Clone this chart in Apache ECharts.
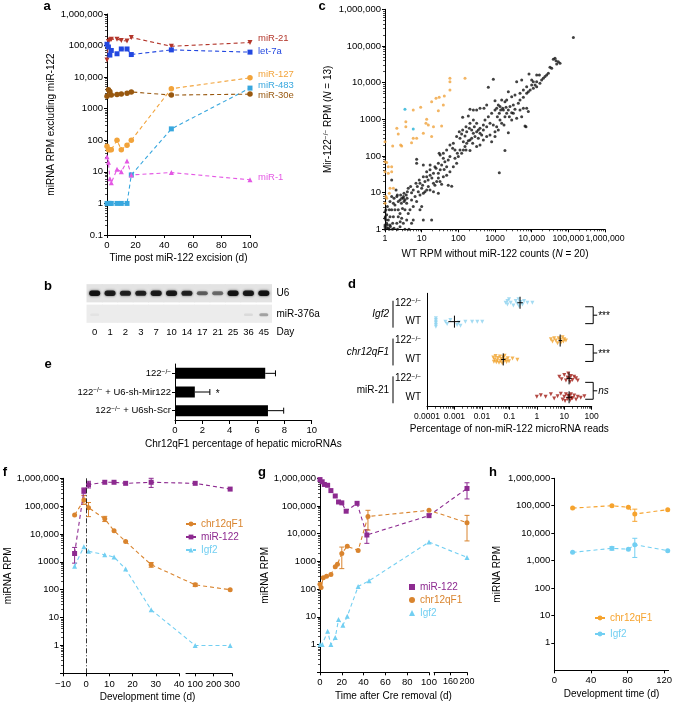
<!DOCTYPE html>
<html><head><meta charset="utf-8">
<script src="https://cdn.jsdelivr.net/npm/echarts@6/dist/echarts.min.js"></script>
<style>html,body{margin:0;padding:0;background:#fff}#chart{width:675px;height:704px}</style>
</head><body><div id="chart"></div>
<script>
// ================= DATA =================
// Panel a: miRNA RPM excluding miR-122 vs time post excision
const aDays   = [0, 1, 2, 3, 7, 10, 14, 17, 45, 100];
const aMiR21  = [35000, 135000, 150000, 160000, 160000, 145000, 140000, 180000, 95000, 125000];
const aLet7a  = [110000, 90000, 50000, 70000, 55000, 78000, 78000, 52000, 73000, 62000];
const aMiR127 = [65, 50, 50, 50, 100, 50, 70, 100, 4300, 9500];
const aMiR483 = [1, 1, 1, 1, 1, 1, 1, 8, 230, 4500];
const aMiR30e = [2500, 4000, 3500, 2700, 2800, 2900, 3100, 3400, 2700, 2900];
const aMiR1   = [30, 20, 6, 4.5, 12, 10, 22, 8, 9.5, 5.6];

// Panel b: northern blot band intensities (0..1)
const bLanes = ['0','1','2','3','7','10','14','17','21','25','36','45'];
const bU6    = [0.95, 0.9, 0.85, 0.85, 0.9, 0.9, 0.85, 0.55, 0.5, 0.95, 0.9, 0.95];
const bMiR376a = [0.04, 0, 0, 0, 0, 0, 0, 0, 0, 0, 0.08, 0.3];

// Panel c: [WT RPM, Mir-122-/- RPM]
const cBlack = [
[137000,169000],[39000,43300],[46100,39800],[53400,37400],[59300,33700],[48100,32300],[31600,26200],[43300,46100],
[25700,16200],[20800,13100],[16200,16200],[13700,10600],[11100,10600],[10000,8630],[8450,17200],[7310,7780],
[5930,6310],[5340,11800],[4810,5120],[3900,10600],[3510,4610],[2850,4150],[2310,5680],[2080,3370],[1870,3030],
[1520,3370],[1230,2460],[1000,3230],[900,12300],[658,7460],[593,2460],[501,2000],[390,2000],[316,1800],[257,1800],
[208,1870],[187,1230],[131,1130],[1430,1800],[1310,1460],[1160,1180],[1370,960],[1620,2000],[2000,2120],[2310,1800],
[2850,1520],[2460,1180],[3510,1870],[5930,2000],[5340,1180],[3900,1060],[7310,2000],[8110,1620],[7000,631],
[2310,433],[1760,700],[1110,631],[900,700],[731,778],[593,631],[481,700],[390,568],[351,512],[316,778],[273,631],
[231,512],[200,568],[169,461],[152,351],[123,398],[111,303],[137,246],[187,262],[231,303],[285,337],[351,303],
[433,374],[390,200],[316,180],[246,221],[208,140],[162,146],[137,146],[111,146],[94,118],[81,146],[70,162],
[59,96],[53,78],[43,70],[39,86],[32,106],[30,118],[35,57],[48,51],[41,43],[32,42],[28.5,34],[23,51],[21,34],
[17,30],[19,25],[15,22],[12.3,20],[10.6,16],[9,18],[7.6,14.6],[5.9,11.8],[5.3,10],[4.3,13.1],[3.8,8.6],[3.2,7.8],
[2.85,7],[2.57,6.3],[2.3,5.7],[2.1,7.8],[1.87,4.6],[1.69,5.1],[1.52,3.4],[1.37,2.2],[1.23,1.8],[1.11,1.46],[1,1.18],
[7.3,81],[7.3,63],[11.1,57],[17,57],[13.7,37],[21,18],[25.7,20],[31.6,20],[35,17],[53,16],[66,15],[28.5,9.6],
[21,10.6],[13.7,11.8],[11.1,9.6],[9,8.6],[6.6,7.8],[5.3,6.3],[3.9,5.1],[3.5,3.4],[2.57,2.7],[2.85,2],[4.3,2.7],
[5.9,1.8],[10,4.2],[9,3.4],[11.1,1.8],[18.7,1.8],[5.3,1.46],[1.69,2.2],[2.1,1.46],[1.37,1.31],[1.23,1.06],[2.57,1.18],
[2,11.8],[1.52,22],[1.06,3.4],[1.11,2.5],[1.87,3.4],[3.16,7],[3.5,6.3],[4,7],[3.3,5.7],[2.8,5.1],[3,3.7],[2.3,3.4],
[6580,658],[1870,140],[1310,35],
[1.06,1.8],[1.16,1.31],[1.02,2.2],[1.31,3.4],[1.62,1.46],[1.76,1.06],[2.3,2.2],[3.16,1.46],[3.9,1.8],[4.8,3.4],
[5.9,4.2],[7.3,5.7],[8.1,10.6],[10,13.1],[12.3,10.6],[15.2,14.6],[16.9,11.8],[23,16],[28.5,25],[39,27],[48,30],
[59,37],[73,51],[90,63],[81,86],[100,96],[123,118],[152,180],[169,221],[208,271],[257,415],[316,461],[390,415],
[481,512],[533,960],[658,1180],[810,1460],[1000,1800],[1110,2000],[1370,2230],[1690,1800],[2080,1460],[2560,2230],
[3160,2460],[4330,2760],[4810,3370],[5930,3980],[7310,5120],[9100,6310],[11100,7020],[12400,8630],[13700,7780],
[16800,9550],[18700,11800],[23100,14600],[28500,18000],[35100,24700],[13700,16200],[10000,11800],[8110,5680],
[4810,1800],[3160,1460],[2850,960],[1870,1180],[1520,778],[1230,512],[1000,461],[731,374],[593,337],[481,271],
[810,246],[1000,337],[257,960],[208,778],[162,631],[131,512],[106,461],[90,337],[73,221],[59,200],[48,146],
[39,118],[28.5,63],[24.6,46],[16.9,42],[13.7,27],[11.1,27],[8.6,22],[7,18],[5,14.6],[4.07,10.6],[3.3,9.6],
[2.67,8.6],[2.17,8.6],[1.76,7],[1.37,5.7],[1.16,4.2],[1.52,7.8],
[1.3,1],[1.6,1],[2.2,1],[3.5,1],[1,1.3],[1,2],[1,3],[1,1],[1.1,1.1],[4.5,1],[1.4,1.2],[2.6,1.6]
];
const cOrange = [[59,13100],[59,10600],[152,13100],[59,6310],[41.5,4330],[30,3980],[24.6,3740],[18.7,3030],[39,2460],
[28.5,1720],[9.4,2120],[5.9,1800],[13.7,1000],[15.2,700],[13.1,778],[35,658],[21,631],[3.7,863],[2.1,568],[2.3,398],
[3.7,631],[1.62,187],[2.67,200],[2.85,187],[5.3,231],[5.9,303],[7.3,303],[11.1,415],[18.7,337],[1,246],[1.11,66],
[1.23,51],[1.52,51],[1.52,37],[1.23,34],[1,37],[1.37,13.1],[1.69,13.1],[1.06,7.8],[1.31,9.6],[1,5.1],[1.11,7],[1,70]];
const cCyan = [[3.5,1870],[5.9,540]];

// Panel d: percentage of non-miR-122 reads; rows 0..5 (Igf2 122-/-, Igf2 WT, chr 122-/-, chr WT, miR-21 122-/-, miR-21 WT)
const dRowNames = ['Igf2·122','Igf2·WT','chr12qF1·122','chr12qF1·WT','miR-21·122','miR-21·WT'];
const dGroups = ['Igf2','chr12qF1','miR-21'];
const dGroupItalic = [true, true, false];
const dSig = ['***','***','ns'];
const dIgf2KO = [0.073,0.085,0.085,0.097,0.112,0.14,0.17,0.196,0.215,0.226,0.26,0.30,0.344,0.456,0.69];
const dIgf2KOdy = [0,-0.09,0.09,-0.18,0,0.14,-0.09,0.04,-0.18,0.18,-0.04,0.09,-0.09,0,0];
const dIgf2WT = [0.00021,0.00021,0.00021,0.00021,0.00021,0.00021,0.00047,0.00054,0.00071,0.00125,0.00144,0.00166,0.0025,0.0044,0.0068,0.0103];
const dIgf2WTdy = [-0.18,-0.09,0,0.09,0.18,0.27,0,0.12,-0.09,0.18,0.05,0.22,0,0,0,0];
const dChrKO = [3.25,3.74,4.3,4.95,5.7,6.2,7.1,7.55,8.7,9.3,10,11.5];
const dChrKOdy = [-0.07,0.05,-0.12,0,0.14,-0.12,-0.04,0.11,-0.18,0.05,-0.07,0];
const dChrWT = [0.026,0.0273,0.029,0.0315,0.0335,0.036,0.038,0.042,0.0455,0.048,0.051,0.055,0.06,0.0635,0.067,0.073,0.079,0.088,0.097,0.13,0.196];
const dChrWTdy = [-0.1,0.12,0,-0.18,0.15,0.05,-0.08,0.18,-0.15,0.08,-0.02,0.2,-0.12,0.1,-0.2,0.02,0.14,-0.06,0.1,-0.05,0.02];
const dMirKO = [6.6,8,10,11.5,13.2,14,15.2,16.4,17.5,20,23,27,31];
const dMirKOdy = [-0.09,0.05,-0.18,0.12,-0.05,-0.26,0,0.18,-0.12,0.09,-0.09,0,0.12];
const dMirWT = [1.0,1.4,2.1,3.25,4.3,5.7,7.5,8.7,10,10.7,11.5,13.2,14,15.2,16.4,17.5,18.6,20,23,27,31,40,54];
const dMirWTdy = [-0.02,-0.11,-0.02,-0.16,0.07,-0.05,-0.19,0.12,-0.02,0.2,-0.16,0.09,-0.08,-0.05,0.16,-0.16,0.05,0.05,-0.09,0.12,-0.02,0.02,-0.05];
// mean, low, high per row
const dStats = [[0.245,0.195,0.31],[0.001,0.0006,0.0016],[7.1,6.2,8.3],[0.06,0.05,0.072],[15,12,18.5],[15,12,19]];

// Panel e
const eLabels = ['122−/−', '122−/− + U6-sh-Mir122', '122−/− + U6sh-Scr'];
const eValues = [6.6, 1.45, 6.8];
const eErrors = [0.75, 1.1, 1.15];
const eSig = ['', '*', ''];

// Panel f: development time
const fDays = [-5, -1, 1, 8, 12, 17, 28, 100, 290];
const fChr = [48000, 165000, 88000, 35000, 13000, 5400, 790, 150, 100];
const fChrLo = [null, 115000, 42000, 28000, null, null, 640, 130, null];
const fChrHi = [null, 240000, 135000, 43000, null, null, 950, 170, null];
const fMiR122 = [2000, 360000, 590000, 720000, 720000, 660000, 720000, 660000, 410000];
const fMiR122Lo = [900, 280000, 450000, null, null, null, 470000, null, null];
const fMiR122Hi = [3300, 450000, 780000, null, null, null, 1000000, null, null];
const fIgf2 = [700, 3500, 2400, 1800, 1500, 550, 19, 1, 1];

// Panel g: time after Cre removal
const gDaysMiR = [0, 2, 4, 7, 10, 14, 17, 20, 24, 34, 43, 100, 200];
const gMiR122 = [900000, 750000, 600000, 560000, 360000, 230000, 140000, 130000, 65000, 125000, 9000, 45000, 430000];
const gMiR122Lo = [null, null, null, null, null, null, null, null, null, null, 4500, null, 180000];
const gMiR122Hi = [null, null, null, null, null, null, null, null, null, null, 14000, null, 690000];
const gDaysChr = [0, 1, 3, 6, 10, 14, 16, 20, 25, 35, 44, 100, 200];
const gChr = [150, 115, 260, 290, 340, 650, 790, 1950, 3500, 2500, 42000, 70000, 25000];
const gChrLo = [null, null, null, null, null, null, null, 550, null, null, 13500, null, 5500];
const gChrHi = [null, null, null, null, null, null, null, 3300, null, null, 70000, null, 46000];
const gDaysIgf = [0, 2, 7, 10, 14, 17, 21, 25, 35, 45, 100, 200];
const gIgf2 = [1, 1, 3, 1, 1.8, 8, 5, 10.5, 125, 200, 5000, 1400];

// Panel h
const hDays = [20, 63, 81, 88, 124];
const hChr = [82000, 100000, 88000, 50000, 72000];
const hChrLo = [null, null, null, 27000, null];
const hChrHi = [null, null, null, 75000, null];
const hIgf2 = [2000, 2800, 2600, 3800, 2300];
const hIgf2Lo = [null, 2400, null, 1300, null];
const hIgf2Hi = [null, 3200, null, 6500, null];

// ================= STYLE / LAYOUT =================
const FONT = '"Liberation Sans", Arial, Helvetica, sans-serif';
const C = {
  a21:'#b3362b', aLet:'#2348e0', a127:'#f2a33a', a483:'#38a7de', a30e:'#98580f', a1:'#e458e4',
  cOr:'#f0a23c', cCy:'#22b0d6',
  dIgf:'#8dd2ef', dChr:'#f0a12a', dMir:'#a01c14',
  fChr:'#d9842e', fMiR:'#8d2a90', fIgf:'#72cff2',
  hChr:'#f6a32e', hIgf:'#72cff2'
};
function deepMerge(a, b) {
  const o = Object.assign({}, a);
  for (const k in b) {
    if (b[k] && typeof b[k] === 'object' && !Array.isArray(b[k]) && a[k] && typeof a[k] === 'object' && !Array.isArray(a[k])) o[k] = deepMerge(a[k], b[k]);
    else o[k] = b[k];
  }
  return o;
}
const SUP = { s: { fontSize: 6.5, verticalAlign: 'top', lineHeight: 7, fontFamily: FONT, color: '#000' },
              i: { fontStyle: 'italic', fontSize: 10, fontFamily: FONT, color: '#000' } };
const axisBase = {
  axisLine: { show: true, onZero: false, lineStyle: { color: '#000', width: 1 } },
  axisTick: { show: true, length: 3, lineStyle: { color: '#000', width: 1 } },
  axisLabel: { color: '#000', fontSize: 9.5, fontFamily: FONT, margin: 4, hideOverlap: false },
  splitLine: { show: false },
  nameTextStyle: { color: '#000', fontSize: 10, fontFamily: FONT, rich: SUP }
};
const ax = extra => deepMerge(axisBase, extra);
const minor = { show: true, splitNumber: 9, length: 2, lineStyle: { color: '#000', width: 0.7 } };
function fmtNum(v, commaFrom) {
  const r = +(+v).toPrecision(6);
  const s = String(r);
  return r >= commaFrom ? s.replace(/\B(?=(\d{3})+(?!\d))/g, ',') : s;
}
function brokenScale(s1, s2) {
  const k = s1.width / (s1.max - s1.min);
  const k2 = s2.width / (s2.max - s2.min);
  return {
    map: d => {
      const px = d <= s1.max ? s1.left + (d - s1.min) * k : s2.left + (d - s2.min) * k2;
      return s1.min + (px - s1.left) / k;
    },
    min: s1.min,
    max: s1.min + (s2.left + s2.width - s1.left) / k,
    left: s1.left,
    width: s2.left + s2.width - s1.left
  };
}
const F1 = { min: -10, max: 40, left: 63, width: 116 }, F2 = { min: 50, max: 300, left: 186, width: 46 };
const G1 = { min: 0, max: 100, left: 320, width: 109 }, G2 = { min: 120, max: 200, left: 434, width: 33 };
const fS = brokenScale(F1, F2), gS = brokenScale(G1, G2);
const FTOP = 478.3;

function errRows(days, lo, hi, map) {
  return days.map((d, i) => lo[i] != null ? [map(d), lo[i], hi[i]] : null).filter(Boolean);
}
function errSeries(xi, yi, color, rows) {
  return {
    type: 'custom', xAxisIndex: xi, yAxisIndex: yi, silent: true, data: rows, z: 3,
    renderItem(params, api) {
      const p1 = api.coord([api.value(0), api.value(1)]), p2 = api.coord([api.value(0), api.value(2)]);
      const cw = 2.5, st = { stroke: color, lineWidth: 1 };
      return { type: 'group', children: [
        { type: 'line', shape: { x1: p1[0], y1: p1[1], x2: p2[0], y2: p2[1] }, style: st },
        { type: 'line', shape: { x1: p1[0] - cw, y1: p1[1], x2: p1[0] + cw, y2: p1[1] }, style: st },
        { type: 'line', shape: { x1: p2[0] - cw, y1: p2[1], x2: p2[0] + cw, y2: p2[1] }, style: st }
      ] };
    }
  };
}
function lineS(name, xi, yi, pts, color, symbol, extra) {
  return Object.assign({
    type: 'line', name, xAxisIndex: xi, yAxisIndex: yi, data: pts,
    symbol, symbolSize: 5, itemStyle: { color }, lineStyle: { color, width: 1.1, type: [4, 3] }, z: 4
  }, extra || {});
}

// ---------- series ----------
const series = [];
// a
[['miR-21', aMiR21, C.a21, 'triangle', 180, [0, -4]],
 ['let-7a', aLet7a, C.aLet, 'rect', 0, [0, -1]],
 ['miR-127', aMiR127, C.a127, 'circle', 0, [0, -3]],
 ['miR-483', aMiR483, C.a483, 'rect', 0, [0, -3]],
 ['miR-30e', aMiR30e, C.a30e, 'circle', 0, [0, 1]],
 ['miR-1', aMiR1, C.a1, 'triangle', 0, [0, -2]]
].forEach(([name, vals, color, sym, rot, off]) => {
  series.push(lineS(name, 0, 0, aDays.map((d, i) => [d, vals[i]]), color, sym, {
    symbolRotate: rot, symbolSize: sym === 'circle' ? 5.5 : 5,
    endLabel: { show: true, formatter: name, color, fontSize: 9.5, fontFamily: FONT, distance: 8, offset: off }
  }));
});
// c
series.push({ type: 'scatter', xAxisIndex: 1, yAxisIndex: 1, data: cBlack, symbolSize: 3, itemStyle: { color: '#111' } });
series.push({ type: 'scatter', xAxisIndex: 1, yAxisIndex: 1, data: cOrange, symbolSize: 3, itemStyle: { color: C.cOr } });
series.push({ type: 'scatter', xAxisIndex: 1, yAxisIndex: 1, data: cCyan, symbolSize: 3, itemStyle: { color: C.cCy } });
// d points
const dPts = (xs, dys, row) => xs.map((x, i) => [x, row + dys[i]]);
[[dPts(dIgf2KO, dIgf2KOdy, 0).concat(dPts(dIgf2WT, dIgf2WTdy, 1)), C.dIgf],
 [dPts(dChrKO, dChrKOdy, 2).concat(dPts(dChrWT, dChrWTdy, 3)), C.dChr],
 [dPts(dMirKO, dMirKOdy, 4).concat(dPts(dMirWT, dMirWTdy, 5)), C.dMir]
].forEach(([pts, color]) => series.push({
  type: 'scatter', xAxisIndex: 2, yAxisIndex: 3, data: pts, symbol: 'triangle', symbolRotate: 180,
  symbolSize: 4, itemStyle: { color }
}));
// d mean +/- SEM crosses
series.push({
  type: 'custom', xAxisIndex: 2, yAxisIndex: 3, silent: true, z: 5,
  data: dStats.map((s, r) => [s[0], r, s[1], s[2]]),
  renderItem(params, api) {
    const r = api.value(1);
    const p = api.coord([api.value(0), r]), pl = api.coord([api.value(2), r]), ph = api.coord([api.value(3), r]);
    const st = { stroke: '#000', lineWidth: 1 };
    return { type: 'group', children: [
      { type: 'line', shape: { x1: pl[0], y1: p[1], x2: ph[0], y2: p[1] }, style: st },
      { type: 'line', shape: { x1: p[0], y1: p[1] - 6, x2: p[0], y2: p[1] + 6 }, style: st }
    ] };
  }
});
// d group labels and significance brackets
series.push({
  type: 'custom', xAxisIndex: 2, yAxisIndex: 3, silent: true,
  data: dGroups.map((g, i) => [1, 2 * i]),
  renderItem(params, api) {
    const i = params.dataIndex;
    const yT = api.coord([1e-4, 2 * i])[1], yB = api.coord([1e-4, 2 * i + 1])[1];
    const xL = api.coord([1e-4, 0])[0], xR = api.coord([100, 0])[0];
    const mid = (yT + yB) / 2, bx = xL - 34, st = { stroke: '#000', lineWidth: 1 };
    const rx = xR + 1.5, t = yT + 4, b = yB + 2;
    return { type: 'group', children: [
      { type: 'line', shape: { x1: bx, y1: yT - 2, x2: bx, y2: yB + 6 }, style: st },
      { type: 'text', x: bx - 4, y: mid + 2, style: { text: dGroups[i], fill: '#000', font: (dGroupItalic[i] ? 'italic ' : '') + '10px ' + FONT, textAlign: 'right', textVerticalAlign: 'middle' } },
      { type: 'polyline', shape: { points: [[rx - 8, t], [rx, t], [rx, b], [rx - 8, b]] }, style: { stroke: '#000', lineWidth: 1, fill: null } },
      { type: 'line', shape: { x1: rx, y1: (t + b) / 2, x2: rx + 4, y2: (t + b) / 2 }, style: st },
      { type: 'text', x: rx + 5, y: (t + b) / 2 + (dSig[i] === 'ns' ? 0 : 1.5), style: { text: dSig[i], fill: '#000', font: (dSig[i] === 'ns' ? 'italic 10px ' : '10px ') + FONT, textAlign: 'left', textVerticalAlign: 'middle' } }
    ] };
  }
});
// b blot
const bData = [];
bLanes.forEach((l, i) => { bData.push([i, 0, bU6[i]]); bData.push([i, 1, bMiR376a[i]]); });
series.push({
  type: 'custom', xAxisIndex: 3, yAxisIndex: 4, silent: true, data: bData,
  renderItem(params, api) {
    const row = api.value(1), v = api.value(2);
    const c = api.coord([api.value(0), row]);
    const s = api.size([1, 1]);
    const bgH = s[1] - 2.3;
    const h = 2.2 + 3.4 * v;
    const w = row === 0 ? 11 : 9;
    const kids = [{ type: 'rect', shape: { x: c[0] - s[0] / 2 - 0.5, y: c[1] - bgH / 2, width: s[0] + 1, height: bgH }, style: { fill: row === 0 ? '#e3e3e3' : '#ececec' } }];
    if (v > 0) kids.push({ type: 'rect', shape: { x: c[0] - w / 2, y: c[1] - h / 2 + (row === 1 ? 1 : 0), width: w, height: h, r: h / 2 }, style: { fill: 'rgba(15,15,15,' + v + ')', shadowBlur: 2.5, shadowColor: 'rgba(0,0,0,' + (0.8 * v) + ')' } });
    return { type: 'group', children: kids };
  }
});
// e bars and error bars
series.push({ type: 'bar', xAxisIndex: 4, yAxisIndex: 5, data: eValues, barWidth: 11, itemStyle: { color: '#000' } });
series.push({
  type: 'custom', xAxisIndex: 4, yAxisIndex: 5, silent: true, z: 3,
  data: eValues.map((v, i) => [v, i, eErrors[i]]),
  renderItem(params, api) {
    const i = params.dataIndex;
    const p0 = api.coord([api.value(0), i]), p1 = api.coord([api.value(0) + api.value(2), i]);
    const st = { stroke: '#000', lineWidth: 1 };
    const kids = [
      { type: 'line', shape: { x1: p0[0], y1: p0[1], x2: p1[0], y2: p1[1] }, style: st },
      { type: 'line', shape: { x1: p1[0], y1: p1[1] - 3, x2: p1[0], y2: p1[1] + 3 }, style: st }
    ];
    if (eSig[i]) kids.push({ type: 'text', x: p1[0] + 6, y: p1[1] + 2, style: { text: eSig[i], fill: '#000', font: '10px ' + FONT, textVerticalAlign: 'middle' } });
    return { type: 'group', children: kids };
  }
});
// f
const fm = fS.map;
series.push(lineS('f:chr12qF1', 5, 6, fDays.map((d, i) => [fm(d), fChr[i]]), C.fChr, 'circle', {
  markLine: { silent: true, symbol: 'none', label: { show: false }, lineStyle: { color: '#000', width: 0.8, type: [5, 2, 1, 2] }, data: [{ xAxis: fm(0) }] }
}));
series.push(lineS('f:miR-122', 5, 6, fDays.map((d, i) => [fm(d), fMiR122[i]]), C.fMiR, 'rect'));
series.push(lineS('f:Igf2', 5, 6, fDays.map((d, i) => [fm(d), fIgf2[i]]), C.fIgf, 'triangle'));
series.push(errSeries(5, 6, C.fChr, errRows(fDays, fChrLo, fChrHi, fm)));
series.push(errSeries(5, 6, C.fMiR, errRows(fDays, fMiR122Lo, fMiR122Hi, fm)));
// g
const gm = gS.map;
series.push(lineS('g:miR-122', 8, 9, gDaysMiR.map((d, i) => [gm(d), gMiR122[i]]), C.fMiR, 'rect'));
series.push(lineS('g:chr12qF1', 8, 9, gDaysChr.map((d, i) => [gm(d), gChr[i]]), C.fChr, 'circle'));
series.push(lineS('g:Igf2', 8, 9, gDaysIgf.map((d, i) => [gm(d), gIgf2[i]]), C.fIgf, 'triangle'));
series.push(errSeries(8, 9, C.fMiR, errRows(gDaysMiR, gMiR122Lo, gMiR122Hi, gm)));
series.push(errSeries(8, 9, C.fChr, errRows(gDaysChr, gChrLo, gChrHi, gm)));
// h
const id = d => d;
series.push(lineS('h:chr12qF1', 11, 12, hDays.map((d, i) => [d, hChr[i]]), C.hChr, 'circle'));
series.push(lineS('h:Igf2', 11, 12, hDays.map((d, i) => [d, hIgf2[i]]), C.hIgf, 'circle'));
series.push(errSeries(11, 12, C.hChr, errRows(hDays, hChrLo, hChrHi, id)));
series.push(errSeries(11, 12, C.hIgf, errRows(hDays, hIgf2Lo, hIgf2Hi, id)));

// ---------- axes ----------
const logY = (grid, commaFrom, extra) => ax(deepMerge({
  gridIndex: grid, type: 'log', logBase: 10, min: 0.1, max: 1e6, splitNumber: 7, minorTick: minor,
  axisLabel: { formatter: v => fmtNum(v, commaFrom), showMinLabel: false, interval: 0 }
}, extra || {}));

const xAxis = [
  ax({ gridIndex: 0, type: 'value', min: 0, max: 100, interval: 20, name: 'Time post miR-122 excision (d)', nameLocation: 'middle', nameGap: 18, axisLabel: { margin: 5 } }),
  ax({ gridIndex: 1, type: 'log', min: 1, max: 1e6, splitNumber: 6, minorTick: minor,
       axisLabel: { formatter: v => fmtNum(v, 10000), margin: 5, interval: 0, fontSize: 8.8, showMinLabel: true, showMaxLabel: true },
       name: 'WT RPM without miR-122 counts ({i|N} = 20)', nameLocation: 'middle', nameGap: 20 }),
  ax({ gridIndex: 2, type: 'log', min: 1e-4, max: 100, splitNumber: 6, minorTick: minor,
       axisLabel: { formatter: v => fmtNum(v, 1e12), margin: 5, interval: 0, fontSize: 8.5, showMinLabel: true, showMaxLabel: true },
       name: 'Percentage of non-miR-122 microRNA reads', nameLocation: 'middle', nameGap: 18 }),
  { gridIndex: 3, type: 'category', data: bLanes, axisLine: { show: false }, axisTick: { show: false },
    axisLabel: { margin: 3, color: '#000', fontSize: 9.5, fontFamily: FONT, interval: 0 },
    name: 'Day', nameLocation: 'end', nameGap: 5, nameTextStyle: { color: '#000', fontSize: 10, fontFamily: FONT, verticalAlign: 'top', padding: [3, 0, 0, 0] } },
  ax({ gridIndex: 4, type: 'value', min: 0, max: 10, interval: 2, axisTick: { length: 4 }, axisLabel: { margin: 5 },
       name: 'Chr12qF1 percentage of hepatic microRNAs', nameLocation: 'middle', nameGap: 19 }),
  { gridIndex: 5, type: 'value', min: fS.min, max: fS.max, axisLine: { show: false }, axisTick: { show: false }, axisLabel: { show: false }, splitLine: { show: false },
    name: 'Development time (d)', nameLocation: 'middle', nameGap: 19, nameTextStyle: { color: '#000', fontSize: 10, fontFamily: FONT } },
  ax({ gridIndex: 6, type: 'value', min: F1.min, max: F1.max, interval: 10, axisLabel: { margin: 6, formatter: v => v < 0 ? '−' + (-v) : String(v) } }),
  ax({ gridIndex: 7, type: 'value', min: F2.min, max: F2.max, interval: 50,
       axisTick: { customValues: [100, 200, 300] }, axisLabel: { margin: 6, customValues: [100, 200, 300], formatter: v => v % 100 === 0 ? String(v) : '' } }),
  { gridIndex: 8, type: 'value', min: gS.min, max: gS.max, axisLine: { show: false }, axisTick: { show: false }, axisLabel: { show: false }, splitLine: { show: false },
    name: 'Time after Cre removal (d)', nameLocation: 'middle', nameGap: 19, nameTextStyle: { color: '#000', fontSize: 10, fontFamily: FONT } },
  ax({ gridIndex: 9, type: 'value', min: G1.min, max: G1.max, interval: 20, axisLabel: { margin: 5 } }),
  ax({ gridIndex: 10, type: 'value', min: G2.min, max: G2.max, interval: 40, axisLabel: { margin: 5, fontSize: 9, formatter: v => v === 120 ? '' : String(v) } }),
  ax({ gridIndex: 11, type: 'value', min: 0, max: 125, interval: 40, axisLabel: { margin: 5, showMaxLabel: false },
       name: 'Development time (d)', nameLocation: 'middle', nameGap: 19 })
];
const yAxis = [
  logY(0, 10000, { axisLabel: { showMinLabel: true }, name: 'miRNA RPM excluding miR-122', nameLocation: 'middle', nameGap: 51 }),
  ax({ gridIndex: 1, type: 'log', min: 1, max: 1e6, splitNumber: 6, minorTick: minor, axisLabel: { formatter: v => fmtNum(v, 10000), interval: 0, showMinLabel: true, showMaxLabel: true },
       name: 'Mir-122{s|−/−} RPM ({i|N} = 13)', nameLocation: 'middle', nameGap: 52 }),
  ax({ gridIndex: 2, type: 'category', inverse: true, data: dRowNames, axisTick: { show: false },
       axisLabel: { margin: 6, fontSize: 10, interval: 0, formatter: v => v.endsWith('122') ? '122{s|−/−}' : 'WT', rich: SUP } }),
  { gridIndex: 2, type: 'value', min: -0.5, max: 5.5, inverse: true, show: false },
  { gridIndex: 3, type: 'category', inverse: true, position: 'right', data: ['U6', 'miR-376a'], axisLine: { show: false }, axisTick: { show: false },
    axisLabel: { margin: 5, color: '#000', fontSize: 10, fontFamily: FONT } },
  ax({ gridIndex: 4, type: 'category', inverse: true, data: eLabels, axisTick: { alignWithLabel: true, length: 3 },
       axisLabel: { margin: 4, fontSize: 9.5, interval: 0, formatter: v => v.replace('−/−', '{s|−/−}'), rich: SUP } }),
  logY(5, 10000, { name: 'miRNA RPM', nameLocation: 'middle', nameGap: 47 }),
  { gridIndex: 6, type: 'value', show: false },
  { gridIndex: 7, type: 'value', show: false },
  logY(8, 10000, { name: 'miRNA RPM', nameLocation: 'middle', nameGap: 50 }),
  { gridIndex: 9, type: 'value', show: false },
  { gridIndex: 10, type: 'value', show: false },
  logY(11, 1000, { minorTick: { show: false }, name: 'miRNA RPM', nameLocation: 'middle', nameGap: 52 })
];

const grid = [
  { left: 107, top: 14, width: 143, height: 221 },
  { left: 385, top: 9.3, width: 220, height: 220 },
  { left: 427, top: 293.3, width: 164.7, height: 113.4 },
  { left: 87, top: 283, width: 184.5, height: 41 },
  { left: 175, top: 364, width: 136.7, height: 56 },
  { left: fS.left, top: FTOP, width: fS.width, height: 195 },
  { left: F1.left, top: FTOP, width: F1.width, height: 195 },
  { left: F2.left, top: FTOP, width: F2.width, height: 195 },
  { left: gS.left, top: FTOP, width: gS.width, height: 194 },
  { left: G1.left, top: FTOP, width: G1.width, height: 194 },
  { left: G2.left, top: FTOP, width: G2.width, height: 194 },
  { left: 554.3, top: FTOP, width: 116.9, height: 192 }
];

const legendText = { fontSize: 10, fontFamily: FONT };
const legend = [
  { orient: 'vertical', left: 180, top: 514, itemWidth: 10, itemHeight: 6, itemGap: 3, selectedMode: false,
    formatter: n => n.split(':')[1], textStyle: legendText,
    data: [{ name: 'f:chr12qF1', textStyle: { color: C.fChr } }, { name: 'f:miR-122', textStyle: { color: C.fMiR } }, { name: 'f:Igf2', textStyle: { color: C.fIgf } }] },
  { orient: 'vertical', left: 404, top: 577, itemWidth: 6, itemHeight: 6, itemGap: 3, selectedMode: false,
    formatter: n => n.split(':')[1], textStyle: legendText,
    data: [{ name: 'g:miR-122', icon: 'rect', textStyle: { color: C.fMiR } }, { name: 'g:chr12qF1', icon: 'circle', textStyle: { color: C.fChr } }, { name: 'g:Igf2', icon: 'triangle', textStyle: { color: C.fIgf } }] },
  { orient: 'vertical', left: 589, top: 608, itemWidth: 10, itemHeight: 6, itemGap: 6, selectedMode: false,
    formatter: n => n.split(':')[1], textStyle: legendText,
    data: [{ name: 'h:chr12qF1', textStyle: { color: C.hChr } }, { name: 'h:Igf2', textStyle: { color: C.hIgf } }] }
];

const panelLabel = (t, x, y) => ({ type: 'text', x, y, style: { text: t, fill: '#000', font: 'bold 13px ' + FONT, textAlign: 'center', textVerticalAlign: 'middle' } });
const graphic = [
  panelLabel('a', 47, 6), panelLabel('c', 322, 6), panelLabel('b', 48, 286), panelLabel('d', 352, 284),
  panelLabel('e', 48, 364), panelLabel('f', 5, 472), panelLabel('g', 262, 472), panelLabel('h', 493, 472)
];

const chart = echarts.init(document.getElementById('chart'), null, { renderer: 'canvas', width: 675, height: 704 });
chart.setOption({
  animation: false,
  backgroundColor: '#fff',
  textStyle: { fontFamily: FONT },
  grid, xAxis, yAxis, legend, graphic, series
});
</script>
</body></html>
